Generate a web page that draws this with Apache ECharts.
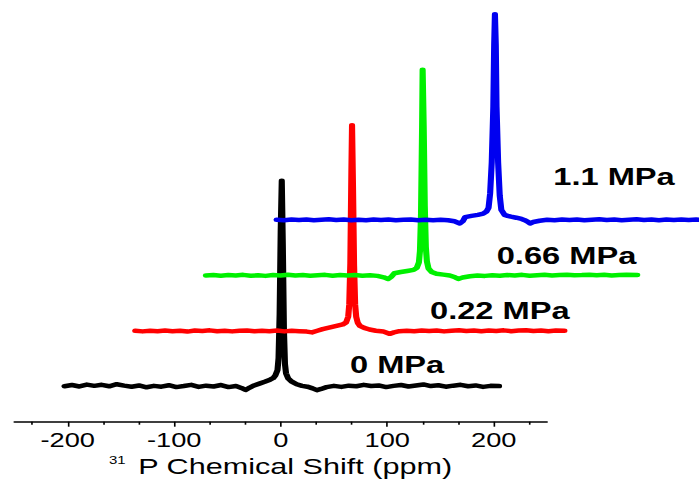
<!DOCTYPE html>
<html>
<head>
<meta charset="utf-8">
<title>31P NMR spectra</title>
<script src="https://cdn.jsdelivr.net/npm/echarts@6/dist/echarts.min.js"></script>
<style>
html, body { margin: 0; padding: 0; background: #fff; overflow: hidden; }
/* the original figure is stretched sideways, so the chart is drawn narrow and scaled */
#chart { width: 514px; height: 485px; transform: scaleX(1.36); transform-origin: 0 0; }
</style>
</head>
<body>
<div id="chart"></div>
<script>
// spectra: [chemical shift (ppm), normalised intensity]
const spec0 = [[-203,0.2],[-196,0.8],[-189,0.1],[-182,1.0],[-175,0.4],[-168,0.9],[-161,0.2],[-154,1.2],[-147,0.5],[-140,0.0],[-133,0.6],[-126,-0.3],[-119,0.4],[-112,0.0],[-105,0.7],[-98,-0.2],[-91,0.3],[-84,0.9],[-77,-0.1],[-70,0.5],[-63,0.1],[-56,0.8],[-49,-0.2],[-42,0.3],[-37,-0.6],[-33,-1.6],[-29,-0.4],[-25,0.6],[-20,1.5],[-15,2.4],[-10,3.4],[-7,4.2],[-5,5.5],[-3,8],[-2,14],[-1,35],[0,75],[1,100],[2,68],[3,28],[4,11],[5,6.5],[7,4.0],[10,2.6],[15,1.2],[20,0.4],[25,0.0],[30,-0.8],[34,-1.7],[38,-1.1],[43,-0.2],[50,0.4],[57,-0.1],[64,0.5],[71,0.2],[78,0.9],[85,0.3],[92,0.6],[99,-0.2],[106,0.4],[113,0.8],[120,0.1],[127,0.6],[134,1.1],[141,0.3],[148,0.7],[155,0.0],[162,0.5],[169,0.9],[176,0.2],[183,0.6],[190,-0.1],[197,0.4],[205,0.3]]
const spec1 = [[-203,0.2],[-196,-0.1],[-189,0.2],[-182,0],[-175,0.3],[-168,0],[-161,0.2],[-154,-0.2],[-147,0.3],[-140,0.1],[-133,0.4],[-126,0],[-119,0.2],[-112,-0.1],[-105,0.2],[-98,0.3],[-91,0],[-84,0.2],[-77,0],[-70,0.3],[-63,-0.1],[-56,0.2],[-49,0],[-42,-0.2],[-37,-0.6],[-32,0.2],[-27,1.0],[-22,1.6],[-17,2.2],[-12,2.8],[-8,3.3],[-5,4.2],[-3,7],[-2,13],[-1,33],[0,78],[0.6,100],[1.5,70],[2.5,32],[3.5,13],[4.5,7],[6,4],[8,2.6],[12,1.6],[17,0.8],[23,0.2],[30,-0.2],[36,-1.3],[40,-0.6],[45,0],[52,0.2],[59,0],[66,0.3],[73,0.1],[80,0.3],[87,-0.1],[94,0.2],[101,0.4],[108,0.1],[115,0.3],[122,0],[129,0.3],[136,0.1],[143,0.4],[150,0],[157,0.3],[164,0.5],[171,0.1],[178,0.3],[185,0],[192,0.3],[200,0.2]]
const spec2 = [[-203,0.1],[-196,0.3],[-189,0],[-182,0.3],[-175,0.1],[-168,0.4],[-161,0],[-154,0.2],[-147,-0.1],[-140,0.3],[-133,0.1],[-126,0.5],[-119,0.1],[-112,0.3],[-105,0],[-98,0.2],[-91,0.4],[-84,0],[-77,0.3],[-70,0.1],[-63,0.3],[-56,0],[-49,0.2],[-42,-0.1],[-36,-0.8],[-32,-1.6],[-29,-0.6],[-26,1.2],[-20,1.8],[-14,2.3],[-8,2.8],[-5,3.8],[-3,6.5],[-2,12],[-1,30],[0,72],[0.5,100],[1.5,72],[2.5,34],[3.5,14],[4.5,7],[6,3.5],[9,1.8],[13.5,0.9],[20,0.5],[26,0.1],[31,-0.8],[34,-1.6],[38,-0.9],[45,-0.3],[52,0.1],[59,-0.1],[66,0.2],[73,0],[80,0.3],[87,0.1],[94,0.4],[101,0],[108,0.2],[115,0.4],[122,0.1],[129,0.3],[136,0.5],[143,0.2],[150,0.3],[157,0.5],[164,0.2],[171,0.4],[178,0.1],[185,0.3],[192,0.5],[202,0.3]]
const spec3 = [[-203,0.2],[-196,0],[-189,0.3],[-182,0.1],[-175,0.3],[-168,0],[-161,0.2],[-154,0.4],[-147,0.1],[-140,0.3],[-133,0],[-126,0.2],[-119,0],[-112,0.3],[-105,0.1],[-98,0.3],[-91,0],[-84,0.2],[-77,0.3],[-70,0],[-63,0.2],[-56,0],[-49,0.2],[-42,0],[-36,-0.5],[-31,-1.6],[-28,-0.4],[-26,1.5],[-20,2.1],[-14,2.6],[-9,3.2],[-6,4.2],[-4,6],[-2.5,13],[-1,28],[0.5,55],[1.3,85],[2,100],[2.8,85],[3.5,55],[5,28],[6.5,12],[8,5],[11,2.6],[14,2.1],[17,1.7],[22,1.2],[27,0.6],[30,0],[33,-0.8],[35,-1.6],[38,-0.9],[44,-0.3],[51,0.2],[58,0],[65,0.3],[72,0.1],[79,0.3],[86,0],[93,0.2],[100,0.4],[107,0.1],[114,0.3],[121,0],[128,0.2],[135,0.4],[142,0.1],[149,0.3],[156,0],[163,0.3],[170,0.1],[177,0.3],[184,0.1],[191,0.3],[198,0.1],[203,0.2]]
const pressures = ['0 MPa', '0.22 MPa', '0.66 MPa', '1.1 MPa']
const majorTicks = [-200, -100, 0, 100, 200]
const minorTicks = [-233.3, -166.7, -133.3, -66.7, -33.3, 33.3, 66.7, 133.3, 166.7, 233.3]

const spectra = [spec0, spec1, spec2, spec3]
const colors = ['#000000', '#ff0000', '#00f000', '#0000f0']
const S = 1.36 // horizontal stretch
const FONT = 'Liberation Sans, Arial, sans-serif'
// pixel layout of the stacked plots (in the stretched picture)
const X0 = 14.45, XW = 532.5, DX = 70.7
const Y0 = 180.7, YH = 241, DY = 55.5
// label anchors: left, top
const labelPos = [[350, 353], [430, 299], [496.7, 243.3], [553.3, 165]]

const myChart = echarts.init(document.getElementById('chart'), null, { renderer: 'svg' })

const grid = []
const xAxis = []
const yAxis = []
const series = []
spectra.forEach((spec, k) => {
  grid.push({
    left: (X0 + DX * k) / S,
    width: XW / S,
    top: Y0 - DY * k,
    height: YH,
    outerBoundsMode: 'none',
    containLabel: false
  })
  yAxis.push({ type: 'value', gridIndex: k, min: -17, max: 100, show: false })
})
// main x axis with labels and long ticks
xAxis.push({
  type: 'value',
  gridIndex: 0,
  min: -250,
  max: 250,
  position: 'bottom',
  axisLine: { onZero: false, lineStyle: { color: '#000', width: 1.6 } },
  axisTick: { show: true, customValues: majorTicks, length: 5, lineStyle: { color: '#000', width: 1.2 } },
  axisLabel: { customValues: majorTicks, color: '#000', fontSize: 20, fontFamily: FONT, margin: 8 },
  splitLine: { show: false },
  name: '{sup|31}{main|P Chemical Shift (ppm)}',
  nameLocation: 'middle',
  nameGap: 33,
  nameTextStyle: {
    color: '#000',
    fontFamily: FONT,
    rich: {
      sup: { fontSize: 11, fontFamily: FONT, color: '#000', verticalAlign: 'top', padding: [0, 9, 0, 0] },
      main: { fontSize: 22.5, fontFamily: FONT, color: '#000' }
    }
  }
})
// short minor ticks
xAxis.push({
  type: 'value',
  gridIndex: 0,
  min: -250,
  max: 250,
  position: 'bottom',
  axisLine: { show: false, onZero: false },
  axisTick: { show: true, customValues: minorTicks, length: 3, lineStyle: { color: '#000', width: 1.2 } },
  axisLabel: { show: false },
  splitLine: { show: false }
})
spectra.forEach((spec, k) => {
  if (k > 0) {
    xAxis.push({ type: 'value', gridIndex: k, min: -250, max: 250, show: false, splitLine: { show: false } })
  }
  series.push({
    name: pressures[k],
    type: 'line',
    xAxisIndex: k === 0 ? 0 : k + 1,
    yAxisIndex: k,
    data: spec,
    showSymbol: false,
    symbol: 'none',
    clip: false,
    lineStyle: { color: colors[k], width: 4.5, join: 'round', cap: 'round' }
  })
})

const option = {
  backgroundColor: '#fff',
  animation: false,
  grid: grid,
  xAxis: xAxis,
  yAxis: yAxis,
  series: series,
  graphic: pressures.map((p, k) => ({
    type: 'text',
    x: labelPos[k][0] / S,
    y: labelPos[k][1],
    style: { text: p, fill: '#000', fontSize: 24, fontWeight: 'bold', fontFamily: FONT }
  }))
}
myChart.setOption(option)
window.addEventListener('resize', () => { myChart.resize() })
</script>
</body>
</html>
